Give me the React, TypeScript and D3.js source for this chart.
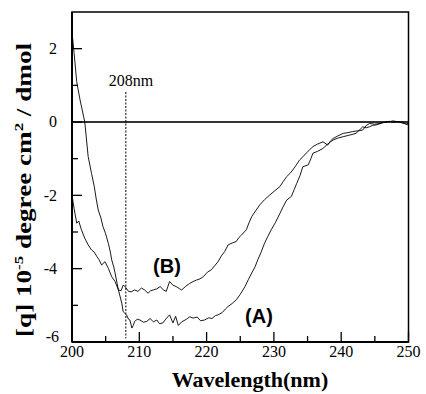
import React from 'react';
import * as d3 from 'd3';

const width = 426;
const height = 394;
const margin = { top: 12, right: 17.5, bottom: 52, left: 72 };

// CD spectra (wavelength nm, [θ] x 10^-5)
const waveA = [
  200.0, 200.3, 200.7, 201.2, 201.9, 202.4, 202.9, 203.3, 203.6, 203.9, 204.3, 204.6, 205.0, 205.4, 205.7,
  205.9, 206.2, 206.4, 206.7, 206.9, 207.2, 207.4, 207.6, 208.1, 208.4, 208.6, 208.9, 209.1, 209.3, 209.7,
  210.1, 210.6, 211.1, 211.6, 212.1, 212.6, 213.0, 213.5, 214.0, 214.5, 215.0, 215.4, 215.8, 216.3, 217.0,
  217.5, 218.0, 218.6, 219.1, 219.7, 220.3, 220.8, 221.3, 221.7, 222.3, 222.8, 223.2, 223.8, 224.4, 225.0,
  225.7, 226.2, 226.7, 227.2, 227.6, 228.1, 228.6, 229.1, 229.6, 230.2, 230.9, 231.4, 231.9, 232.6, 233.0,
  233.4, 233.9, 234.3, 235.1, 235.5, 235.8, 236.5, 237.3, 238.0, 238.8, 239.5, 240.3, 241.2, 242.2, 242.7,
  243.2, 243.7, 244.2, 244.7, 245.2, 246.0, 246.6, 247.2, 247.8, 248.2, 248.7, 249.2, 249.7, 250.0,
];
const cdA = [
  2.45, 1.9, 1.1, 0.6, 0.0, -0.94, -1.4, -1.75, -2.1, -2.4, -2.62, -2.85, -3.05, -3.31, -3.55,
  -3.76, -3.95, -4.12, -4.4, -4.58, -4.8, -4.94, -5.17, -5.26, -5.38, -5.4, -5.62, -5.55, -5.44, -5.38,
  -5.4, -5.46, -5.44, -5.36, -5.45, -5.4, -5.5, -5.48, -5.36, -5.26, -5.48, -5.3, -5.55, -5.45, -5.38,
  -5.31, -5.35, -5.32, -5.42, -5.4, -5.34, -5.36, -5.28, -5.26, -5.2, -5.1, -5.03, -4.95, -4.85, -4.7,
  -4.49, -4.3, -4.12, -3.95, -3.76, -3.55, -3.31, -3.12, -2.94, -2.75, -2.49, -2.3, -2.13, -2.03, -1.85,
  -1.67, -1.45, -1.22, -1.17, -1.0, -0.85, -0.8, -0.72, -0.6, -0.49, -0.44, -0.4, -0.36, -0.31, -0.22,
  -0.13, -0.16, -0.13, -0.09, -0.08, -0.03, 0.0, 0.02, -0.01, 0.01, 0.0, -0.04, -0.05, -0.03,
];

const waveB = [
  200.0, 200.3, 200.7, 201.0, 201.4, 201.9, 202.4, 202.9, 203.3, 203.7, 204.0, 204.4, 204.9, 205.4, 205.9,
  206.4, 206.9, 207.3, 207.6, 207.9, 208.4, 208.8, 209.3, 209.8, 210.3, 210.8, 211.3, 211.7, 212.1, 212.6,
  213.1, 213.6, 214.0, 214.5, 215.0, 215.5, 216.0, 216.3, 216.9, 217.5, 218.0, 218.5, 219.0, 219.5, 220.1,
  220.7, 221.2, 221.7, 222.2, 222.7, 223.2, 223.8, 224.4, 224.8, 225.2, 225.9, 226.3, 226.7, 227.3, 227.9,
  228.6, 229.4, 230.1, 230.9, 231.4, 231.9, 232.4, 232.8, 233.3, 233.8, 234.3, 234.8, 235.3, 235.8, 236.5,
  237.3, 238.0, 238.4, 238.8, 239.5, 240.3, 241.0, 241.7, 242.5, 243.2, 243.7, 244.2, 245.0, 245.7, 246.5,
  247.2, 247.7, 248.3, 249.2, 249.6, 250.0,
];
const cdB = [
  -2.0, -2.35, -2.76, -2.7, -2.94, -3.17, -3.35, -3.49, -3.55, -3.67, -3.75, -3.9, -3.81, -3.99, -4.22,
  -4.35, -4.58, -4.6, -4.45, -4.49, -4.62, -4.63, -4.58, -4.62, -4.53, -4.58, -4.67, -4.6, -4.58, -4.55,
  -4.49, -4.58, -4.62, -4.35, -4.45, -4.49, -4.55, -4.58, -4.48, -4.4, -4.35, -4.31, -4.28, -4.22, -4.1,
  -4.03, -3.92, -3.81, -3.65, -3.53, -3.35, -3.3, -3.26, -3.15, -3.08, -2.94, -2.75, -2.58, -2.42, -2.26,
  -2.12, -1.99, -1.88, -1.76, -1.62, -1.49, -1.4, -1.31, -1.18, -1.04, -0.95, -0.85, -0.76, -0.67, -0.6,
  -0.54, -0.63, -0.52, -0.45, -0.38, -0.31, -0.29, -0.26, -0.24, -0.22, -0.1, -0.04, -0.06, -0.04, 0.0,
  0.01, 0.03, 0.01, 0.0, -0.06, -0.08,
];

const xTicks = [200, 210, 220, 230, 240, 250];
const xMinor = [205, 215, 225, 235, 245];
const yTicks = [2, 0, -2, -4, -6];
const yMinor = [1, -1, -3, -5];
const markerNm = 208;

const serif = '"Liberation Serif", "Times New Roman", serif';
const sans = '"Liberation Sans", Arial, sans-serif';

const App = () => {
  const innerWidth = width - margin.left - margin.right;
  const innerHeight = height - margin.top - margin.bottom;

  const xScale = d3.scaleLinear().domain([200, 250]).range([0, innerWidth]);
  const yScale = d3.scaleLinear().domain([-6, 3]).range([innerHeight, 0]);

  const lineGen = d3
    .line<[number, number]>()
    .x(d => xScale(d[0]))
    .y(d => yScale(d[1]));

  const pathA = lineGen(waveA.map((w, i) => [w, cdA[i]]));
  const pathB = lineGen(waveB.map((w, i) => [w, cdB[i]]));

  return (
    <svg
      width={width}
      height={height}
      style={{ position: 'absolute', left: 0, top: 0, background: '#fff' }}
    >
      <g transform={`translate(${margin.left},${margin.top})`}>
        {/* zero line */}
        <line x1={0} x2={innerWidth} y1={yScale(0)} y2={yScale(0)} stroke="#333" strokeWidth={2} />

        {/* 208 nm marker */}
        <line
          x1={xScale(markerNm)}
          x2={xScale(markerNm)}
          y1={80}
          y2={yScale(-5.9)}
          stroke="#000"
          strokeWidth={1}
          strokeDasharray="2,1.5"
        />
        <text x={xScale(markerNm) - 17} y={74} fontFamily={serif} fontSize={16}>
          208nm
        </text>

        <path d={pathB} fill="none" stroke="#000" strokeWidth={0.9} />
        <path d={pathA} fill="none" stroke="#000" strokeWidth={0.9} />

        <text x={95} y={261} textAnchor="middle" fontFamily={sans} fontWeight="bold" fontSize={20}>
          (B)
        </text>
        <text x={187} y={311} textAnchor="middle" fontFamily={sans} fontWeight="bold" fontSize={20}>
          (A)
        </text>

        {/* frame */}
        <rect x={0} y={0} width={innerWidth} height={innerHeight} fill="none" stroke="#000" strokeWidth={1.5} />
        <line x1={0} x2={0} y1={0} y2={innerHeight} stroke="#000" strokeWidth={2} />
        <line x1={0} x2={innerWidth} y1={innerHeight} y2={innerHeight} stroke="#000" strokeWidth={2} />

        {/* y ticks */}
        {yTicks.map(t => (
          <g key={t} transform={`translate(0,${yScale(t)})`}>
            <line x2={10} stroke="#000" strokeWidth={1.3} />
            <text
              x={t === -6 ? -13 : -15}
              dy={t === -6 ? '0.0em' : '0.34em'}
              textAnchor="end"
              fontFamily={serif}
              fontSize={16}
            >
              {t}
            </text>
          </g>
        ))}
        {yMinor.map(t => (
          <line key={t} x2={6} y1={yScale(t)} y2={yScale(t)} stroke="#000" strokeWidth={1.3} />
        ))}

        {/* x ticks */}
        {xTicks.map(t => (
          <g key={t} transform={`translate(${xScale(t)},${innerHeight})`}>
            <line y2={-10} stroke="#000" strokeWidth={1.3} />
            <text y={15} textAnchor="middle" fontFamily={serif} fontSize={16}>
              {t}
            </text>
          </g>
        ))}
        {xMinor.map(t => (
          <line
            key={t}
            x1={xScale(t)}
            x2={xScale(t)}
            y1={innerHeight}
            y2={innerHeight - 6}
            stroke="#000"
            strokeWidth={1.3}
          />
        ))}
      </g>

      {/* axis titles */}
      <text
        x={250}
        y={387}
        textAnchor="middle"
        fontFamily={serif}
        fontWeight="bold"
        fontSize={22}
      >
        Wavelength(nm)
      </text>
      <text
        transform="translate(31,190) rotate(-90)"
        textAnchor="middle"
        fontFamily={serif}
        fontWeight="bold"
        fontSize={21}
        textLength={294}
        lengthAdjust="spacingAndGlyphs"
      >
        [q] 10
        <tspan fontSize={13} dy="-0.6em">-5</tspan>
        <tspan dy="0.38em"> degree cm</tspan>
        <tspan fontSize={13} dy="-0.6em">2</tspan>
        <tspan dy="0.38em"> / dmol</tspan>
      </text>
    </svg>
  );
};

export default App;
